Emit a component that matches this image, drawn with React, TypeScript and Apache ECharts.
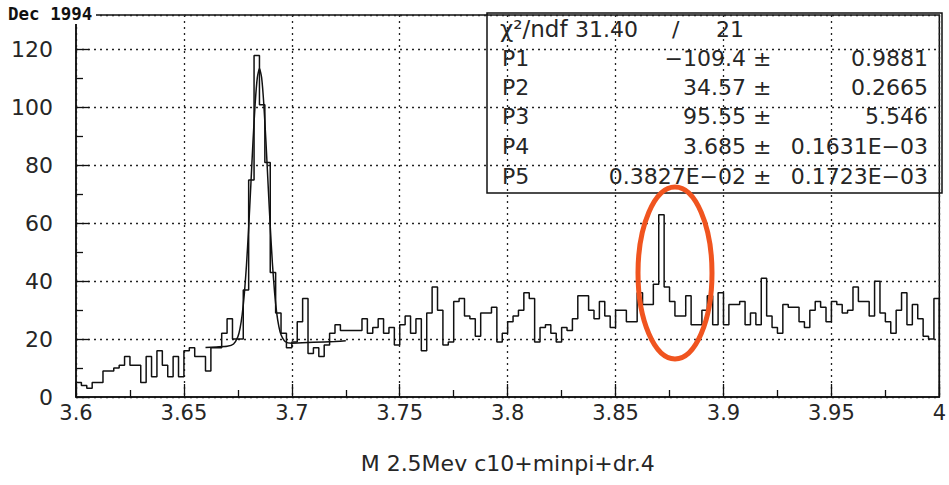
import React, { useEffect, useRef } from "react";
import * as echarts from "echarts";

// ---- data ----
const xMin = 3.6;
const xMax = 4.0;
const binWidth = 0.0025;
const binCounts = [
  5, 4, 3, 5, 5, 9, 9, 10, 11, 14, 11, 11, 5, 14, 7, 16, 11, 7, 14, 7,
  16, 17, 14, 14, 9, 17, 17, 22, 27, 20, 20, 37, 75, 118, 101, 81, 43, 29, 22, 17,
  19, 26, 34, 15, 17, 14, 18, 22, 25, 23, 23, 23, 23, 27, 22, 24, 27, 22, 24, 18,
  25, 28, 22, 27, 16, 29, 38, 30, 18, 19, 33, 34, 28, 27, 21, 29, 29, 31, 19, 22,
  26, 28, 30, 36, 34, 19, 24, 25, 22, 19, 24, 23, 27, 35, 35, 30, 27, 33, 28, 24,
  30, 30, 26, 26, 36, 32, 32, 39, 63, 38, 33, 28, 28, 35, 25, 25, 30, 35, 25, 36,
  25, 32, 32, 33, 25, 29, 25, 41, 28, 24, 22, 32, 31, 31, 26, 24, 30, 33, 31, 26,
  33, 32, 29, 30, 38, 33, 33, 28, 40, 29, 26, 22, 30, 36, 25, 32, 27, 21, 20, 34,
];
const fitX = [
  3.66, 3.665, 3.67, 3.673, 3.675, 3.676, 3.677, 3.678, 3.679, 3.68, 3.681, 3.682,
  3.683, 3.684, 3.685, 3.686, 3.687, 3.688, 3.689, 3.69, 3.691, 3.692, 3.693,
  3.694, 3.695, 3.697, 3.7, 3.71, 3.72, 3.725,
];
const fitY = [
  17.1, 17.3, 17.5, 18.3, 20.8, 23.7, 28.5, 35.7, 45.7, 58.5, 73.2, 88.2,
  101.3, 110.3, 113.5, 110.4, 101.4, 88.4, 73.5, 58.9, 46.2, 36.2, 29.0,
  24.3, 21.5, 19.1, 18.6, 18.9, 19.2, 19.4,
];
const yTickStep = 20;
const xTickStep = 0.05;
const dateLabel = "Dec 1994";
const xTitle = "M 2.5Mev c10+minpi+dr.4";
const chi2Label = "χ²/ndf";
const chi2Value = "31.40";
const ndfValue = "21";
const parNames = ["P1", "P2", "P3", "P4", "P5"];
const parValues = ["−109.4", "34.57", "95.55", "3.685", "0.3827E−02"];
const parErrors = ["0.9881", "0.2665", "5.546", "0.1631E−03", "0.1723E−03"];

export default function App() {
  const ref = useRef<HTMLDivElement>(null);
  useEffect(() => {
    if (!ref.current) return;
    const chart = echarts.init(ref.current, null, { renderer: "svg" });

    const histData: number[][] = [[xMin, 0]];
    binCounts.forEach((c, i) => histData.push([xMin + i * binWidth, c]));
    histData.push([xMax, binCounts[binCounts.length - 1]]);
    histData.push([xMax, 0]);
    const fitData = fitX.map((x, i) => [x, fitY[i]]);

    const font = '"DejaVu Sans", sans-serif';
    const textColor = "#262626";
    const ink = "#111";
    const sf = `22px ${font}`;

    const rowY = [58, 87, 116, 146, 176];
    const statTexts: any[] = [];
    statTexts.push({
      type: "text", x: 500, y: 29, z: 50,
      style: { text: chi2Label, font: `23px ${font}`, fill: textColor, verticalAlign: "middle" },
    });
    statTexts.push({
      type: "text", x: 575, y: 29, z: 50,
      style: { text: chi2Value, font: sf, fill: textColor, verticalAlign: "middle" },
    });
    statTexts.push({
      type: "text", x: 672, y: 29, z: 50,
      style: { text: "/", font: sf, fill: textColor, verticalAlign: "middle" },
    });
    statTexts.push({
      type: "text", x: 716, y: 29, z: 50,
      style: { text: ndfValue, font: sf, fill: textColor, verticalAlign: "middle" },
    });
    parNames.forEach((n, i) => {
      statTexts.push({
        type: "text", x: 502, y: rowY[i], z: 50,
        style: { text: n, font: sf, fill: textColor, verticalAlign: "middle", align: "left" },
      });
      statTexts.push({
        type: "text", x: 746, y: rowY[i], z: 50,
        style: { text: parValues[i], font: sf, fill: textColor, verticalAlign: "middle", align: "right" },
      });
      statTexts.push({
        type: "text", x: 753, y: rowY[i], z: 50,
        style: { text: "±", font: sf, fill: textColor, verticalAlign: "middle", align: "left" },
      });
      statTexts.push({
        type: "text", x: 928, y: rowY[i], z: 50,
        style: { text: parErrors[i], font: sf, fill: textColor, verticalAlign: "middle", align: "right" },
      });
    });

    chart.setOption({
      animation: false,
      backgroundColor: "#ffffff",
      grid: {
        left: 76, right: 6, top: 15, bottom: 88,
        show: true, borderColor: ink, borderWidth: 1.5,
        backgroundColor: "transparent",
      },
      xAxis: {
        type: "value", min: xMin, max: xMax, interval: xTickStep,
        axisLine: { lineStyle: { color: ink, width: 1.5 } },
        axisTick: { inside: true, length: 13, lineStyle: { color: ink, width: 1.3 } },
        minorTick: { show: true, splitNumber: 2, length: 7, lineStyle: { color: ink, width: 1.3 } },
        splitLine: { show: true, lineStyle: { type: [2, 4], color: "#222", width: 1.3 } },
        axisLabel: {
          fontSize: 21, color: textColor, margin: 5, fontFamily: font,
          formatter: (v: number) => String(Number(v.toFixed(3))),
        },
        name: xTitle, nameLocation: "middle", nameGap: 55,
        nameTextStyle: { fontSize: 22, color: textColor, fontFamily: font },
      },
      yAxis: {
        type: "value", min: 0, max: 132, interval: yTickStep,
        axisLine: { show: true, lineStyle: { color: ink, width: 1.5 } },
        axisTick: { show: true, inside: true, length: 13, lineStyle: { color: ink, width: 1.3 } },
        minorTick: { show: true, splitNumber: 2, length: 7, lineStyle: { color: ink, width: 1.3 } },
        splitLine: { show: true, lineStyle: { type: [2, 4], color: "#222", width: 1.3 } },
        axisLabel: { fontSize: 22, color: textColor, margin: 23, fontFamily: font, showMaxLabel: false },
      },
      series: [
        {
          type: "line", data: histData, step: "end", symbol: "none",
          lineStyle: { color: ink, width: 1.5 }, z: 5,
        },
        {
          type: "line", data: fitData, smooth: 0.2, symbol: "none",
          lineStyle: { color: ink, width: 1.5 }, z: 6,
        },
      ],
      graphic: [
        { type: "rect", left: 4, top: 3, z: 40, shape: { width: 92, height: 21 }, style: { fill: "#fff" } },
        {
          type: "text", left: 8, top: 5, z: 50,
          style: { text: dateLabel, font: `bold 17.5px "DejaVu Sans Mono", monospace`, fill: ink },
        },
        {
          type: "rect", z: 45,
          shape: { x: 487, y: 13, width: 455, height: 180 },
          style: { fill: "none", stroke: ink, lineWidth: 1.5 },
        },
        ...statTexts,
        {
          type: "ellipse", z: 60,
          shape: { cx: 675, cy: 273, rx: 37, ry: 86 },
          style: { fill: "none", stroke: "#f0541f", lineWidth: 5 },
        },
      ],
    });
    return () => chart.dispose();
  }, []);
  return (
    <div
      ref={ref}
      style={{ position: "fixed", left: 0, top: 0, width: 949, height: 485, background: "#fff" }}
    />
  );
}
